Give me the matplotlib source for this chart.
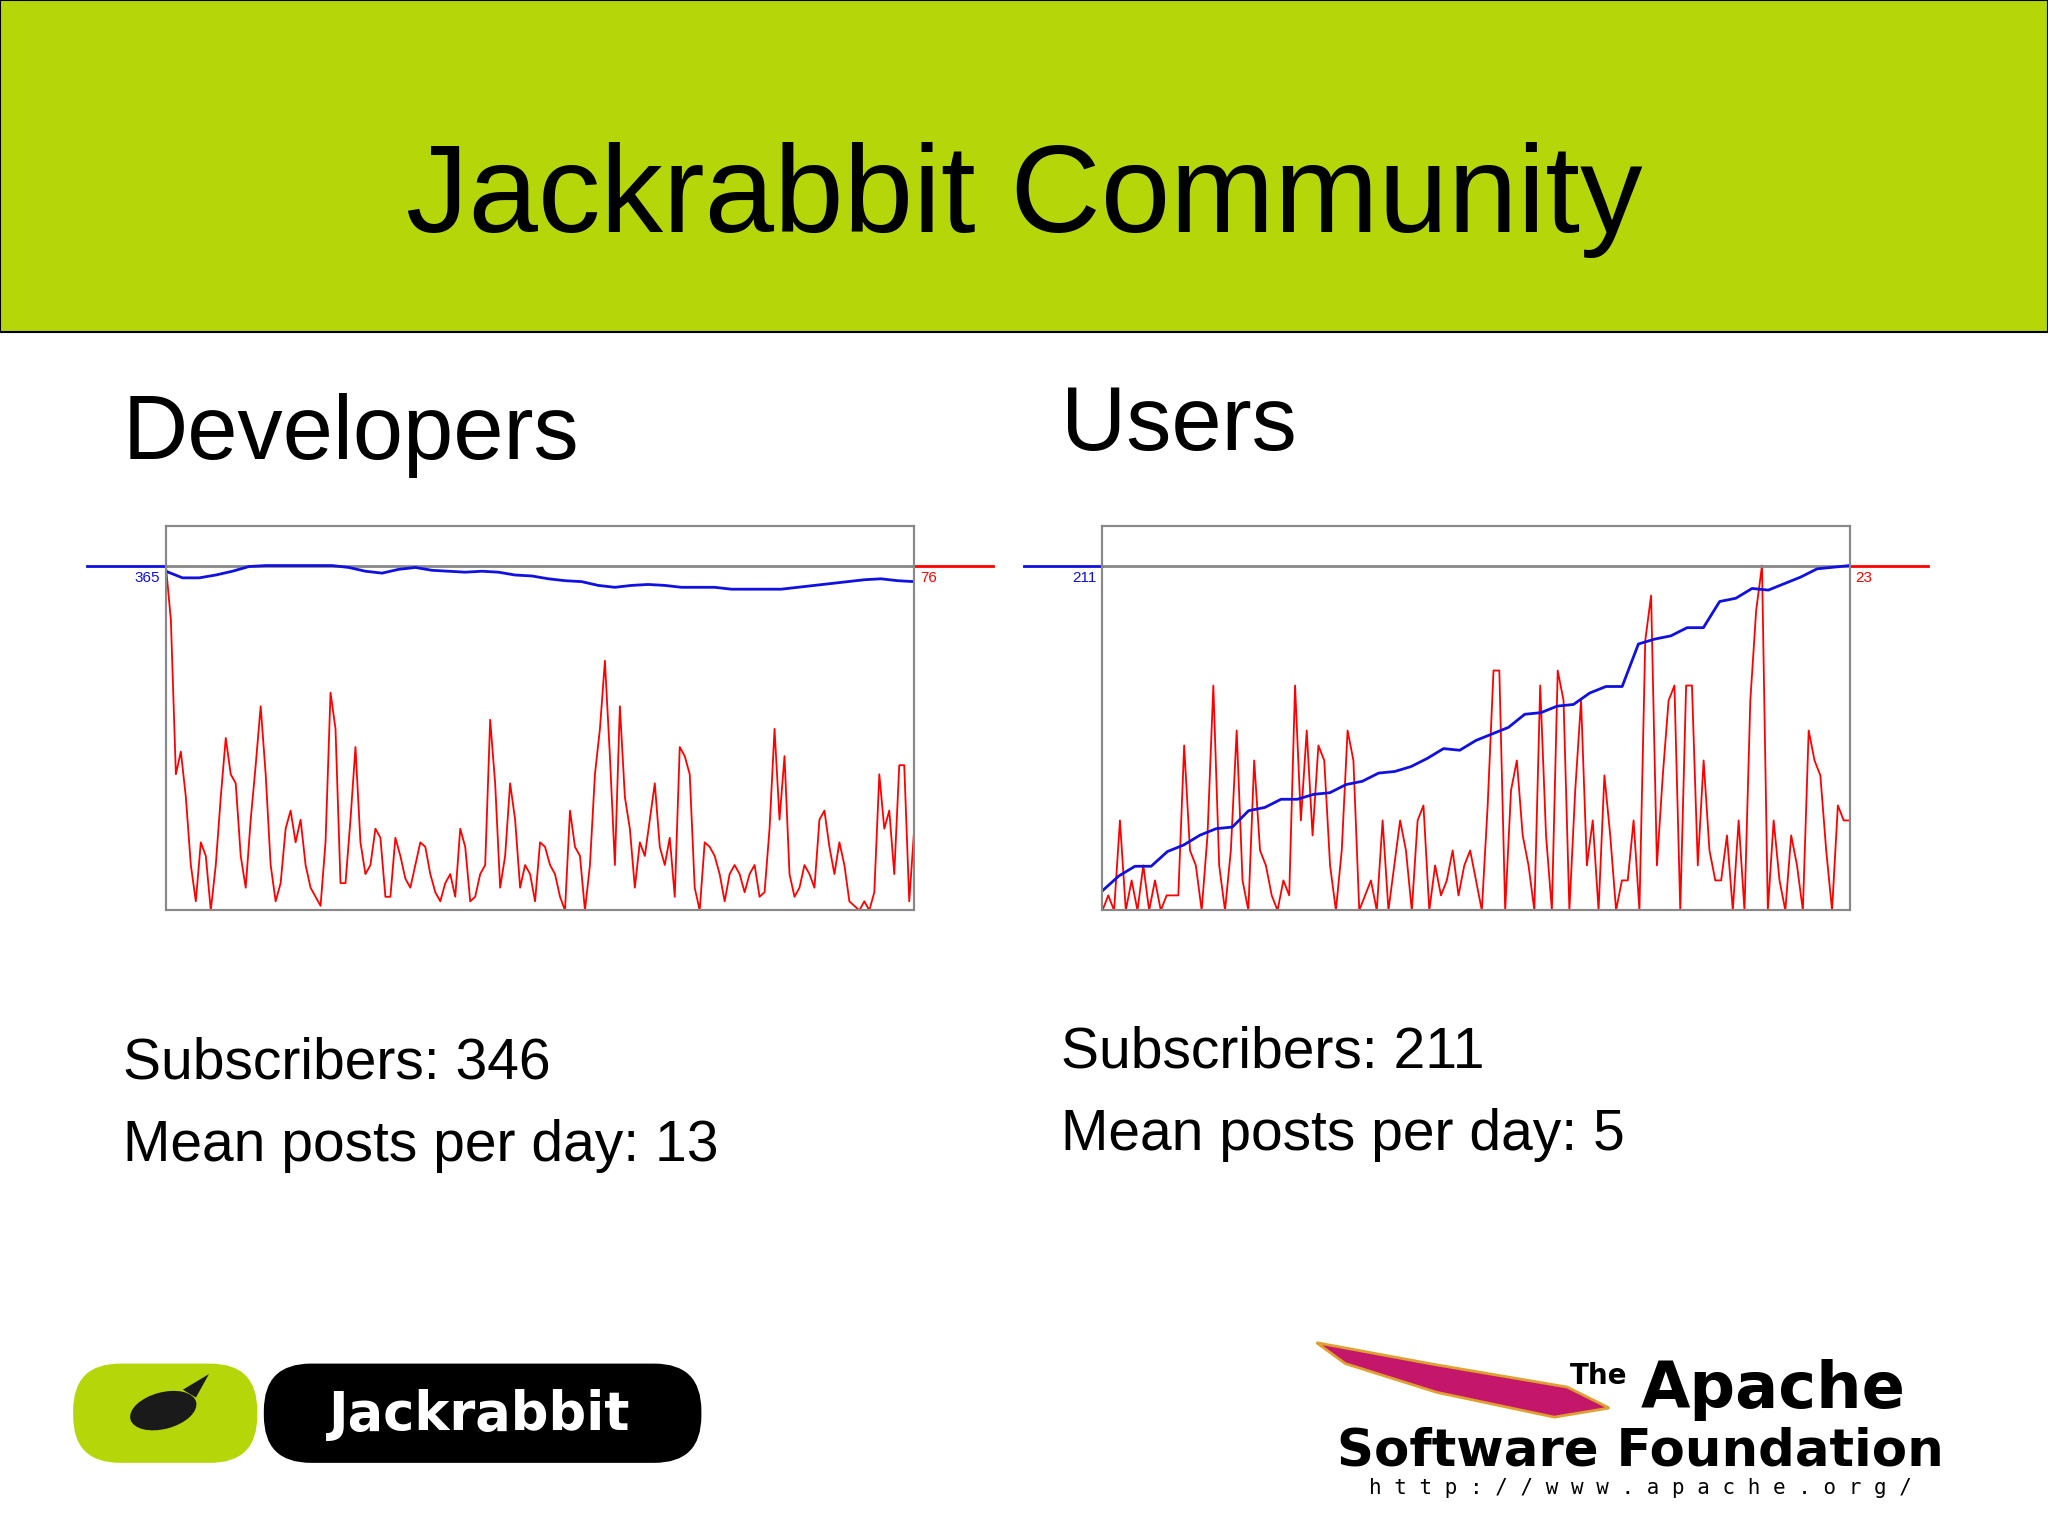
import matplotlib.pyplot as plt
from matplotlib.patches import Rectangle, FancyBboxPatch, Ellipse, Polygon
import numpy as np

plt.rcParams['font.family'] = ['Liberation Sans', 'DejaVu Sans']

# Developers list: posts per day (red, max 76) and subscribers (blue, max 365)
dev_posts = [76, 64, 30, 35, 25, 10, 2, 15, 12, 0, 10, 25, 38, 30, 28, 12, 5, 20, 32, 45,
             30, 10, 2, 6, 18, 22, 15, 20, 10, 5, 3, 1, 15, 48, 40, 6, 6, 20, 36, 15,
             8, 10, 18, 16, 3, 3, 16, 12, 7, 5, 10, 15, 14, 8, 4, 2, 6, 8, 3, 18,
             14, 2, 3, 8, 10, 42, 28, 5, 12, 28, 20, 5, 10, 8, 2, 15, 14, 10, 8, 3,
             0, 22, 14, 12, 0, 10, 30, 40, 55, 34, 10, 45, 25, 18, 5, 15, 12, 20, 28, 14,
             10, 16, 3, 36, 34, 30, 5, 0, 15, 14, 12, 8, 2, 8, 10, 8, 4, 8, 10, 3,
             4, 18, 40, 20, 34, 8, 3, 5, 10, 8, 5, 20, 22, 14, 8, 15, 10, 2, 1, 0,
             2, 0, 4, 30, 18, 22, 8, 32, 32, 2, 18]
dev_subs = [359, 352, 352, 355, 359, 364, 365, 365, 365, 365, 365, 363, 359, 357, 361, 363,
            360, 359, 358, 359, 358, 355, 354, 351, 349, 348, 344, 342, 344, 345, 344, 342,
            342, 342, 340, 340, 340, 340, 342, 344, 346, 348, 350, 351, 349, 348]

# Users list: posts per day (red, max 23) and subscribers (blue, max 211)
usr_posts = [0, 1, 0, 6, 0, 2, 0, 3, 0, 2, 0, 1, 1, 1, 11, 4, 3, 0, 5, 15, 3, 0, 4, 12, 2,
             0, 10, 4, 3, 1, 0, 2, 1, 15, 6, 12, 5, 11, 10, 3, 0, 4, 12, 10, 0, 1, 2, 0,
             6, 0, 3, 6, 4, 0, 6, 7, 0, 3, 1, 2, 4, 1, 3, 4, 2, 0, 7, 16, 16, 0, 8, 10,
             5, 3, 0, 15, 5, 0, 16, 14, 0, 8, 14, 3, 6, 0, 9, 5, 0, 2, 2, 6, 0, 18, 21,
             3, 9, 14, 15, 0, 15, 15, 3, 10, 4, 2, 2, 5, 0, 6, 0, 14, 20, 23, 0, 6, 2,
             0, 5, 3, 0, 12, 10, 9, 4, 0, 7, 6, 6]
usr_subs = [12, 21, 27, 27, 36, 40, 46, 50, 51, 61, 63, 68, 68, 71, 72, 77, 79, 84, 85, 88,
            93, 99, 98, 104, 108, 112, 120, 121, 125, 126, 133, 137, 137, 163, 166, 168,
            173, 173, 189, 191, 197, 196, 200, 204, 209, 210, 211]

fig = plt.figure(figsize=(20.48, 15.36), dpi=100)
fig.patches.append(Rectangle((0, 0.784), 1, 0.216, transform=fig.transFigure,
                             facecolor='#b5d70a', edgecolor='black', lw=1.5))
fig.text(0.5, 0.87, 'Jackrabbit Community', ha='center', va='center', fontsize=90)
fig.text(0.06, 0.701, 'Developers', fontsize=65)
fig.text(0.518, 0.707, 'Users', fontsize=65)

fig.text(0.06, 0.298, 'Subscribers: 346', fontsize=41)
fig.text(0.06, 0.244, 'Mean posts per day: 13', fontsize=41)
fig.text(0.518, 0.305, 'Subscribers: 211', fontsize=41)
fig.text(0.518, 0.251, 'Mean posts per day: 5', fontsize=41)


def chart(rect, posts, subs, pmax, smax, lab_l, lab_r):
    ax = fig.add_axes(rect)
    ax.plot(np.linspace(0, 1, len(posts)), posts, color='red', lw=1.3)
    top = pmax * 294 / 264
    ax.set_xlim(0, 1)
    ax.set_ylim(0, top)
    ax2 = ax.twinx()
    ax2.plot(np.linspace(0, 1, len(subs)), subs, color='#1010e0', lw=2)
    ax2.set_ylim(0, smax * 294 / 264)
    for a in (ax, ax2):
        a.set_xticks([])
        a.set_yticks([])
        for s in a.spines.values():
            s.set_color('#888888')
            s.set_linewidth(1.5)
    ax.plot([-0.105, 0], [pmax, pmax], color='#1010e0', lw=2, clip_on=False)
    ax.plot([0, 1], [pmax, pmax], color='#888888', lw=2)
    ax.plot([1, 1.105], [pmax, pmax], color='red', lw=2, clip_on=False)
    ax.text(-0.008, pmax * 0.965, lab_l, color='#1010e0', ha='right', va='center', fontsize=11)
    ax.text(1.008, pmax * 0.965, lab_r, color='red', ha='left', va='center', fontsize=11)


chart([0.081, 0.4073, 0.3654, 0.25], dev_posts, dev_subs, 76, 365, '365', '76')
chart([0.5383, 0.4073, 0.3648, 0.25], usr_posts, usr_subs, 23, 211, '211', '23')

# logos, drawn on an overlay in slide pixel units
lg = fig.add_axes([0, 0, 1, 1], zorder=-1)
lg.set_xlim(0, 1568)
lg.set_ylim(1176, 0)
lg.axis('off')
lg.add_patch(FancyBboxPatch((56, 1044), 141, 76, boxstyle='round,pad=0,rounding_size=36',
                            facecolor='#b5d70a', edgecolor='none'))
lg.add_patch(FancyBboxPatch((202, 1044), 335, 76, boxstyle='round,pad=0,rounding_size=36',
                            facecolor='black', edgecolor='none'))
lg.add_patch(Ellipse((125, 1080), 52, 28, angle=-15, facecolor='#1a1a1a'))
lg.add_patch(Polygon([[140, 1064], [160, 1052], [150, 1070]], facecolor='#1a1a1a'))
lg.text(367, 1083, 'Jackrabbit', color='white', fontsize=38, fontweight='bold',
        ha='center', va='center', family='DejaVu Sans')

lg.add_patch(Polygon([[1008, 1028], [1100, 1045], [1200, 1062], [1232, 1078],
                      [1190, 1085], [1100, 1066], [1030, 1044]],
                     facecolor='#c4166a', edgecolor='#e0a030', lw=2))
lg.text(1202, 1060, 'The', fontsize=20, fontweight='bold', family='DejaVu Sans')
lg.text(1256, 1078, 'Apache', fontsize=46, fontweight='bold', family='DejaVu Sans')
lg.text(1024, 1122, 'Software Foundation', fontsize=37, fontweight='bold', family='DejaVu Sans')
lg.text(1048, 1144, 'h t t p : / / w w w . a p a c h e . o r g /', fontsize=15,
        family='DejaVu Sans Mono')

fig.savefig('out.png', dpi=100)
